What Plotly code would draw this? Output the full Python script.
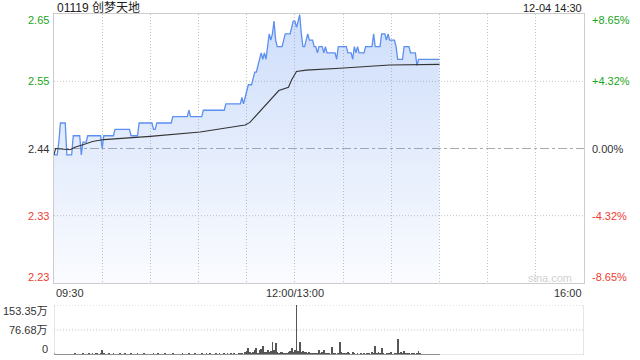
import plotly.graph_objects as go

# ---------------- data ----------------
title_text = "01119 创梦天地"
stamp_text = "12-04 14:30"
prev_close = 2.44
pct_levels = [8.65, 4.32, 0.0, -4.32, -8.65]
price_labels = ["2.65", "2.55", "2.44", "2.33", "2.23"]
pct_labels = ["+8.65%", "+4.32%", "0.00%", "-4.32%", "-8.65%"]
label_colors = ["#1aa51a", "#1aa51a", "#333333", "#f03c32", "#f03c32"]

time_ticks = [0, 150, 330]
time_labels = ["09:30", "12:00/13:00", "16:00"]
grid_minutes = [30, 60, 90, 120, 150, 180, 210, 240, 270, 300]
total_minutes = 330

price = [
    2.43, 2.43, 2.43, 2.45, 2.48, 2.48, 2.48, 2.48, 2.43, 2.43,
    2.43, 2.43, 2.46, 2.46, 2.46, 2.46, 2.46, 2.43, 2.45, 2.45,
    2.45, 2.46, 2.46, 2.46, 2.46, 2.46, 2.46, 2.46, 2.46, 2.46,
    2.44, 2.46, 2.46, 2.46, 2.46, 2.46, 2.46, 2.46, 2.47, 2.47,
    2.47, 2.47, 2.47, 2.47, 2.47, 2.47, 2.47, 2.47, 2.46, 2.46,
    2.46, 2.46, 2.46, 2.48, 2.48, 2.48, 2.48, 2.48, 2.48, 2.48,
    2.48, 2.48, 2.47, 2.47, 2.48, 2.48, 2.48, 2.48, 2.48, 2.48,
    2.48, 2.48, 2.48, 2.48, 2.49, 2.49, 2.49, 2.49, 2.49, 2.49,
    2.49, 2.49, 2.49, 2.49, 2.50, 2.49, 2.49, 2.49, 2.49, 2.49,
    2.49, 2.49, 2.49, 2.50, 2.50, 2.50, 2.50, 2.50, 2.50, 2.50,
    2.50, 2.50, 2.50, 2.50, 2.50, 2.50, 2.50, 2.51, 2.51, 2.51,
    2.51, 2.51, 2.51, 2.51, 2.51, 2.51, 2.51, 2.52, 2.51, 2.52,
    2.53, 2.54, 2.54, 2.54, 2.55, 2.56, 2.56, 2.57, 2.58, 2.59,
    2.58, 2.59, 2.58, 2.60, 2.62, 2.61, 2.62, 2.64, 2.61, 2.60,
    2.60, 2.60, 2.60, 2.61, 2.62, 2.62, 2.62, 2.62, 2.63, 2.64,
    2.64, 2.63, 2.64, 2.65, 2.62, 2.60, 2.60, 2.61, 2.62, 2.61,
    2.61, 2.61, 2.60, 2.60, 2.59, 2.60, 2.60, 2.60, 2.59, 2.60,
    2.59, 2.59, 2.59, 2.59, 2.59, 2.59, 2.58, 2.60, 2.60, 2.60,
    2.60, 2.60, 2.60, 2.59, 2.59, 2.59, 2.58, 2.60, 2.59, 2.60,
    2.59, 2.59, 2.59, 2.59, 2.60, 2.60, 2.60, 2.60, 2.60, 2.62,
    2.60, 2.60, 2.60, 2.60, 2.62, 2.62, 2.62, 2.61, 2.62, 2.61,
    2.61, 2.61, 2.61, 2.60, 2.58, 2.58, 2.58, 2.58, 2.60, 2.60,
    2.60, 2.60, 2.59, 2.59, 2.59, 2.59, 2.57, 2.58, 2.58, 2.58,
    2.58, 2.58, 2.58, 2.58, 2.58, 2.58, 2.58, 2.58, 2.58, 2.58, 2.58,
]

avg_minutes = [0, 1, 10, 13, 18, 24, 31, 60, 91, 113, 119, 122, 126, 130,
               136, 140, 146, 148, 151, 157, 178, 209, 240]
avg_price = [2.430, 2.440, 2.438, 2.442, 2.446, 2.451, 2.454, 2.459, 2.466,
             2.474, 2.477, 2.481, 2.492, 2.503, 2.521, 2.531, 2.536, 2.548,
             2.561, 2.563, 2.566, 2.571, 2.572]

# volume in 万 shares per minute
volume = [
    4, 2, 3, 2, 3, 2, 2, 3, 2, 3,
    2, 3, 2, 4, 3, 2, 3, 2, 4, 3,
    3, 2, 4, 3, 5, 3, 4, 5, 3, 6,
    15, 4, 3, 2, 5, 3, 2, 4, 3, 2,
    3, 5, 2, 3, 4, 2, 3, 2, 4, 3,
    2, 3, 4, 2, 3, 2, 4, 3, 2, 3,
    3, 2, 4, 2, 3, 5, 2, 3, 2, 4,
    2, 3, 2, 3, 4, 2, 3, 2, 3, 2,
    4, 2, 3, 2, 5, 3, 2, 3, 4, 2,
    3, 2, 4, 3, 2, 5, 3, 4, 2, 3,
    2, 4, 3, 5, 3, 2, 4, 3, 6, 3,
    4, 3, 5, 3, 2, 6, 4, 5, 3, 9,
    12, 20, 8, 6, 10, 14, 22, 7, 15, 18,
    27, 10, 9, 15, 8, 12, 40, 14, 37, 10,
    6, 8, 10, 5, 7, 6, 9, 12, 22, 8,
    14, 153.35, 12, 40, 10, 11, 9, 10, 6, 8,
    5, 7, 4, 6, 5, 14, 4, 8, 15, 5,
    4, 6, 3, 25, 5, 4, 3, 6, 40, 8,
    5, 4, 6, 8, 5, 3, 10, 4, 3, 6,
    3, 4, 2, 5, 3, 4, 6, 3, 8, 4,
    28, 5, 10, 6, 22, 4, 3, 5, 7, 4,
    10, 3, 5, 4, 49, 6, 8, 4, 12, 5,
    4, 6, 3, 5, 4, 3, 6, 12, 4, 3,
    3, 2, 3, 2, 2, 3, 2, 2, 3, 2, 2,
]
vol_labels = ["153.35万", "76.68万", "0"]
vol_max = 153.35

# ---------------- layout geometry (pixels) ----------------
W, H = 640, 360
px_l, px_r = 54, 584
pr_top, pr_bot = 14, 283
vo_top, vo_bot = 305, 355
DOT = "1px,2px"


def fx(p):
    return p / W


def fy(p):
    return 1 - p / H


minutes = list(range(len(price)))
level_prices = [prev_close * (1 + p / 100) for p in pct_levels]
y_lo, y_hi = level_prices[-1], level_prices[0]

fig = go.Figure()

fig.add_trace(go.Scatter(
    x=minutes, y=price, mode="lines",
    line=dict(color="#5b8ff0", width=1.3),
    fill="tozeroy",
    fillgradient=dict(type="vertical", start=y_lo, stop=y_hi,
                      colorscale=[[0, "rgba(91,143,240,0.03)"],
                                  [1, "rgba(91,143,240,0.30)"]]),
    xaxis="x", yaxis="y", hoverinfo="skip", showlegend=False,
))
fig.add_trace(go.Scatter(
    x=avg_minutes, y=avg_price, mode="lines",
    line=dict(color="#333333", width=1.1),
    xaxis="x", yaxis="y", hoverinfo="skip", showlegend=False,
))
fig.add_trace(go.Bar(
    x=minutes, y=volume, width=0.5,
    marker=dict(color="#555555", line=dict(width=0)),
    xaxis="x2", yaxis="y2", hoverinfo="skip", showlegend=False,
))

dom_x = [fx(px_l), fx(px_r)]
fig.update_layout(
    width=W, height=H,
    margin=dict(l=0, r=0, t=0, b=0),
    paper_bgcolor="white", plot_bgcolor="rgba(0,0,0,0)",
    font=dict(family="Liberation Sans, Arial, sans-serif", size=11, color="#333"),
    bargap=0,
    xaxis=dict(domain=dom_x, range=[0, total_minutes], tickvals=grid_minutes,
               showticklabels=False, showgrid=True, gridcolor="#c4c4c4",
               griddash=DOT, gridwidth=1, zeroline=False, ticks="",
               showline=True, mirror=True, linecolor="#cccccc", linewidth=1,
               fixedrange=True, layer="below traces"),
    yaxis=dict(domain=[fy(pr_bot), fy(pr_top)], range=[y_lo, y_hi],
               showticklabels=False, showgrid=False, zeroline=False,
               showline=True, mirror=True, linecolor="#cccccc", linewidth=1,
               fixedrange=True),
    xaxis2=dict(domain=dom_x, range=[0, total_minutes], showticklabels=False,
                showgrid=False, zeroline=False, showline=False, ticks="",
                fixedrange=True, anchor="y2"),
    yaxis2=dict(domain=[fy(vo_bot), fy(vo_top)], range=[0, vol_max],
                showticklabels=False, showgrid=False, zeroline=False,
                showline=False, fixedrange=True, anchor="x2"),
)

shapes = []
# horizontal price grid lines (inner levels)
for i, lp in enumerate(level_prices[1:-1]):
    mid = pct_levels[1 + i] == 0
    shapes.append(dict(type="line", xref="x", yref="y", x0=0, x1=total_minutes,
                       y0=lp, y1=lp, layer="below",
                       line=dict(color="#aaaaaa" if mid else "#c4c4c4", width=1,
                                 dash="dashdot" if mid else DOT)))
# volume panel frame
shapes.append(dict(type="line", xref="x2", yref="y2", x0=0, x1=total_minutes,
                   y0=vol_max, y1=vol_max, line=dict(color="#c4c4c4", width=1, dash=DOT)))
shapes.append(dict(type="line", xref="x2", yref="y2", x0=0, x1=total_minutes,
                   y0=vol_max / 2, y1=vol_max / 2, line=dict(color="#c4c4c4", width=1, dash=DOT)))
shapes.append(dict(type="line", xref="x2", yref="y2", x0=0, x1=total_minutes,
                   y0=0, y1=0, line=dict(color="#cccccc", width=1)))
shapes.append(dict(type="line", xref="x2", yref="y2", x0=0, x1=0,
                   y0=0, y1=vol_max, line=dict(color="#cccccc", width=1)))
shapes.append(dict(type="line", xref="x2", yref="y2", x0=total_minutes, x1=total_minutes,
                   y0=0, y1=vol_max, line=dict(color="#cccccc", width=1)))
fig.update_layout(shapes=shapes)

ann = []
# title and timestamp
ann.append(dict(text=title_text, xref="paper", yref="paper", x=fx(px_l + 1), y=fy(7.5),
                xanchor="left", yanchor="middle", showarrow=False,
                font=dict(size=12, color="#222",
                          family="Liberation Sans, Noto Sans CJK SC, sans-serif")))
ann.append(dict(text=stamp_text, xref="paper", yref="paper", x=fx(px_r), y=fy(7.5),
                xanchor="right", yanchor="middle", showarrow=False,
                font=dict(size=11, color="#222")))
# price / percent labels
n = len(level_prices)
for i, lp in enumerate(level_prices):
    shift = -6 if i == 0 else (6 if i == n - 1 else 0)
    ann.append(dict(text=price_labels[i], xref="paper", yref="y", x=fx(51), y=lp,
                    yshift=shift, xanchor="right", yanchor="middle", showarrow=False,
                    font=dict(size=11, color=label_colors[i])))
    ann.append(dict(text=pct_labels[i], xref="paper", yref="y", x=fx(590), y=lp,
                    yshift=shift, xanchor="left", yanchor="middle", showarrow=False,
                    font=dict(size=11, color=label_colors[i])))
# time labels
anchors = ["left", "center", "right"]
for t, lab, a in zip(time_ticks, time_labels, anchors):
    ann.append(dict(text=lab, xref="x", yref="paper", x=t, y=fy(293),
                    xanchor=a, yanchor="middle", showarrow=False,
                    font=dict(size=11, color="#333")))
# volume labels
vol_vals = [vol_max, vol_max / 2, 0]
for i, (v, lab) in enumerate(zip(vol_vals, vol_labels)):
    shift = -6 if i == 0 else (6 if i == 2 else 0)
    ann.append(dict(text=lab, xref="paper", yref="y2", x=fx(50), y=v, yshift=shift,
                    xanchor="right", yanchor="middle", showarrow=False,
                    font=dict(size=11, color="#333",
                              family="Liberation Sans, Noto Sans CJK SC, sans-serif")))
# watermark
ann.append(dict(text="sina.com", xref="paper", yref="paper", x=fx(574), y=fy(278),
                xanchor="right", yanchor="middle", showarrow=False,
                font=dict(size=11, color="#d0d0d0")))
fig.update_layout(annotations=ann)

fig.write_html("out.html", config={"displayModeBar": False})
